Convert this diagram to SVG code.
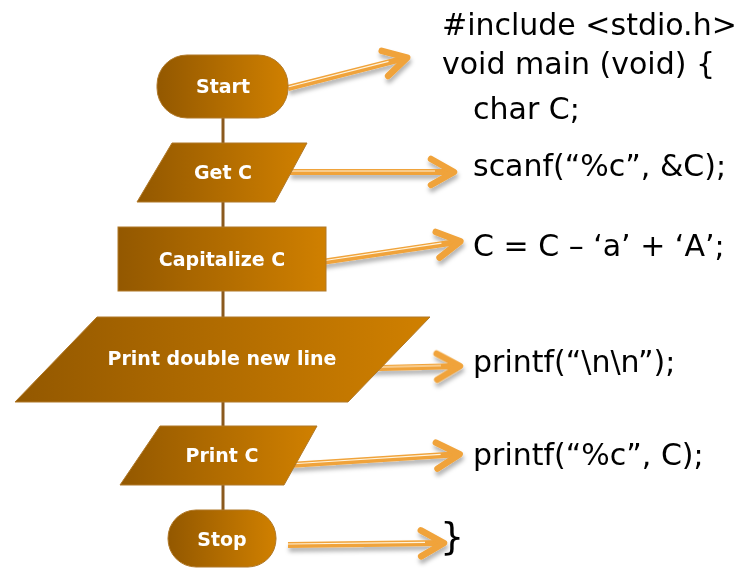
<svg xmlns="http://www.w3.org/2000/svg" width="742" height="573" viewBox="0 0 742 573">
<defs>
<linearGradient id="fill" x1="0" y1="0" x2="1" y2="0">
<stop offset="0" stop-color="#935800"/>
<stop offset="1" stop-color="#D08000"/>
</linearGradient>
<filter id="sh" x="-10%" y="-30%" width="130%" height="180%">
<feDropShadow dx="1" dy="4" stdDeviation="2" flood-color="#000" flood-opacity="0.3"/>
</filter>
</defs>
<style>
.node{fill:url(#fill);stroke:#B07828;stroke-width:1}
.lbl{fill:#fff;font-family:"DejaVu Sans",sans-serif;font-weight:bold;font-size:19px;text-anchor:middle}
.code{fill:#000;font-family:"DejaVu Sans",sans-serif;font-size:30px}
.flow{stroke:#8B5A1E;stroke-width:3;fill:none}
.shaft{stroke:#F0A33A;stroke-width:6;fill:none}
.inner{stroke:#FFF3DC;stroke-width:1.2;fill:none}
.head{stroke:#F0A33A;stroke-width:6.5;fill:none;stroke-linecap:round;stroke-linejoin:round}
</style>
<rect width="742" height="573" fill="#fff"/>
<g id="connectors">
<line class="flow" x1="223" y1="118" x2="223" y2="510"/>
<g id="arrows" filter="url(#sh)">
<g transform="translate(288,88) rotate(-14.26)">
<line class="shaft" x1="0" y1="0" x2="121" y2="0"/>
<line class="inner" x1="0" y1="-1" x2="104" y2="-1"/>
<polyline class="head" points="100,-13 123,0 100,13"/>
</g>
<g transform="translate(290,172)">
<line class="shaft" x1="0" y1="0" x2="162" y2="0"/>
<line class="inner" x1="0" y1="-1" x2="145" y2="-1"/>
<polyline class="head" points="141,-13 164,0 141,13"/>
</g>
<g transform="translate(315,263) rotate(-8.45)">
<line class="shaft" x1="0" y1="0" x2="145" y2="0"/>
<line class="inner" x1="0" y1="-1" x2="128" y2="-1"/>
<polyline class="head" points="124,-13 147,0 124,13"/>
</g>
<g transform="translate(341,369) rotate(-1.41)">
<line class="shaft" x1="0" y1="0" x2="117" y2="0"/>
<line class="inner" x1="0" y1="-1" x2="100" y2="-1"/>
<polyline class="head" points="96,-13 119,0 96,13"/>
</g>
<g transform="translate(289,465) rotate(-3.62)">
<line class="shaft" x1="0" y1="0" x2="169" y2="0"/>
<line class="inner" x1="0" y1="-1" x2="152" y2="-1"/>
<polyline class="head" points="148,-13 171,0 148,13"/>
</g>
<g transform="translate(288,545) rotate(-0.72)">
<line class="shaft" x1="0" y1="0" x2="154" y2="0"/>
<line class="inner" x1="0" y1="-1" x2="137" y2="-1"/>
<polyline class="head" points="133,-13 156,0 133,13"/>
</g>
</g>
</g>
<g id="start">
<rect class="node" x="157" y="55" width="131" height="63" rx="30" ry="30"/>
<text class="lbl" x="223" y="93">Start</text>
</g>
<g id="getc">
<polygon class="node" points="172,143 307,143 275,202 137,202"/>
<text class="lbl" x="223" y="179">Get C</text>
</g>
<g id="capitalize">
<rect class="node" x="118" y="227" width="208" height="64"/>
<text class="lbl" x="222" y="266">Capitalize C</text>
</g>
<g id="printnl">
<polygon class="node" points="97,317 430,317 348,402 15,402"/>
<text class="lbl" x="222" y="365">Print double new line</text>
</g>
<g id="printc">
<polygon class="node" points="160,426 317,426 284,485 120,485"/>
<text class="lbl" x="222" y="462">Print C</text>
</g>
<g id="stop">
<rect class="node" x="168" y="510" width="108" height="57" rx="28" ry="28"/>
<text class="lbl" x="222" y="546">Stop</text>
</g>
<g id="code">
<text class="code" x="442" y="35">#include &lt;stdio.h&gt;</text>
<text class="code" x="442" y="74">void main (void) {</text>
<text class="code" x="473" y="119">char C;</text>
<text class="code" x="473" y="176">scanf(“%c”, &amp;C);</text>
<text class="code" x="473" y="256">C = C – ‘a’ + ‘A’;</text>
<text class="code" x="473" y="372">printf(“\n\n”);</text>
<text class="code" x="473" y="465">printf(“%c”, C);</text>
<text class="code" x="440" y="549" style="font-size:38px">}</text>
</g>
</svg>
